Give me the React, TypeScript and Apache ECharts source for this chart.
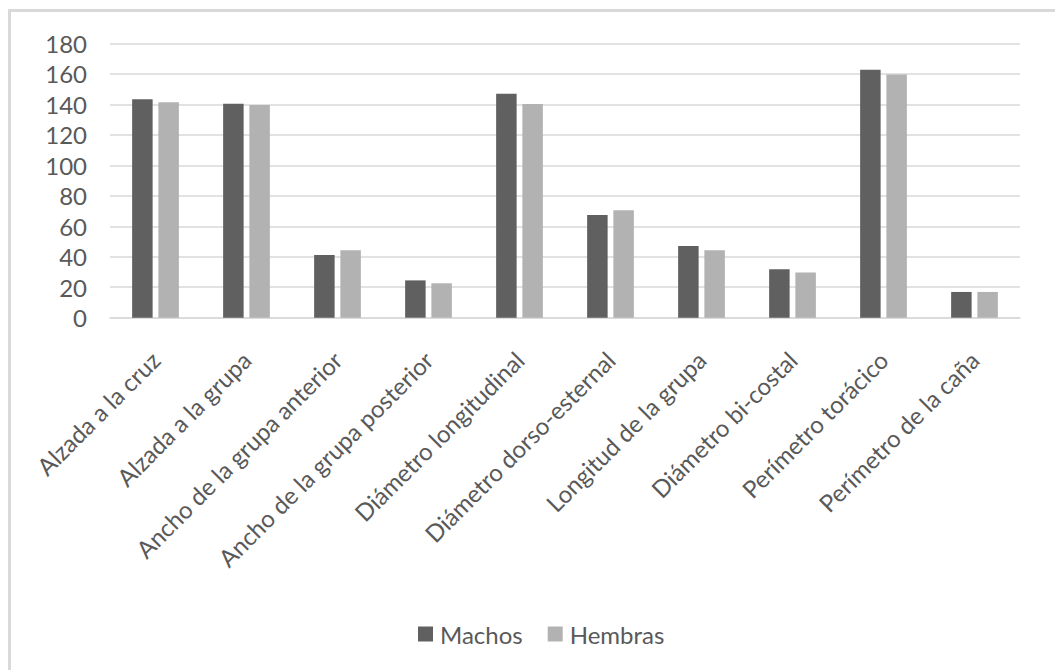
import React, { useEffect, useRef } from "react";
import * as echarts from "echarts";

const categories = [
  "Alzada a la cruz",
  "Alzada a la grupa",
  "Ancho de la grupa anterior",
  "Ancho de la grupa posterior",
  "Diámetro longitudinal",
  "Diámetro dorso-esternal",
  "Longitud de la grupa",
  "Diámetro bi-costal",
  "Perímetro torácico",
  "Perímetro de la caña",
];

const machos = [143.4, 140.5, 41.2, 24.5, 147.0, 67.4, 47.0, 31.8, 162.8, 16.9];
const hembras = [141.4, 139.6, 44.2, 22.6, 140.3, 70.5, 44.2, 29.6, 159.7, 16.9];

const yTicks = { min: 0, max: 180, interval: 20 };

const TEXT = "#595959";
const FONT = "Lato, 'Noto Sans', sans-serif";

export default function App() {
  const ref = useRef<HTMLDivElement>(null);

  useEffect(() => {
    if (!ref.current) return;
    const chart = echarts.init(ref.current, undefined, { renderer: "svg" });
    chart.setOption({
      animation: false,
      backgroundColor: "#ffffff",
      textStyle: { fontFamily: FONT, color: TEXT },
      graphic: [
        {
          type: "rect",
          shape: { x: 9.5, y: 10.5, width: 1200, height: 800 },
          style: { fill: "none", stroke: "#d9d9d9", lineWidth: 3 },
          silent: true,
        },
      ],
      grid: { left: 110, right: 35, top: 43.5, bottom: 352.3 },
      legend: {
        data: ["Machos", "Hembras"],
        left: 418,
        top: 622,
        padding: 0,
        itemWidth: 15,
        itemHeight: 15,
        itemGap: 25,
        icon: "rect",
        textStyle: { fontFamily: FONT, color: TEXT, fontSize: 24, padding: [0, 0, 0, 2] },
      },
      xAxis: {
        type: "category",
        data: categories,
        axisLine: { show: true, lineStyle: { color: "#d9d9d9", width: 1.5 } },
        axisTick: { show: false },
        axisLabel: {
          interval: 0,
          rotate: 45,
          margin: 38,
          fontFamily: FONT,
          fontSize: 24,
          color: TEXT,
        },
      },
      yAxis: {
        type: "value",
        min: yTicks.min,
        max: yTicks.max,
        interval: yTicks.interval,
        axisLine: { show: false },
        axisTick: { show: false },
        axisLabel: { margin: 23, fontFamily: FONT, fontSize: 24, color: TEXT },
        splitLine: { lineStyle: { color: "#d9d9d9", width: 1.5 } },
      },
      series: [
        {
          name: "Machos",
          type: "bar",
          data: machos,
          barWidth: 20.5,
          barGap: "28%",
          itemStyle: { color: "#606060" },
        },
        {
          name: "Hembras",
          type: "bar",
          data: hembras,
          barWidth: 20.5,
          barGap: "28%",
          itemStyle: { color: "#b2b2b2" },
        },
      ],
    });
    return () => chart.dispose();
  }, []);

  return (
    <div
      ref={ref}
      style={{ position: "absolute", left: 0, top: 0, width: 1055, height: 670 }}
    />
  );
}
